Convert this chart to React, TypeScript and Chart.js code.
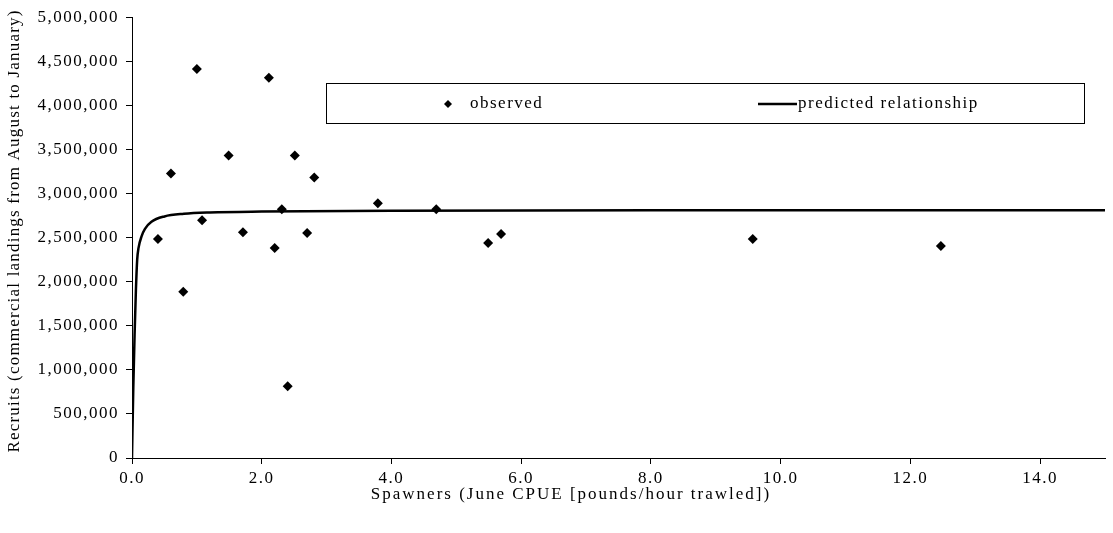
import React, { useEffect, useRef } from "react";
import { Chart, registerables } from "chart.js";
Chart.register(...registerables);

// Observed spawner (June CPUE) and recruit values
const spawners = [0.4, 0.6, 0.79, 1.0, 1.08, 1.49, 1.71, 2.11, 2.2, 2.31, 2.4, 2.51, 2.7, 2.81, 3.79, 4.69, 5.49, 5.69, 9.57, 12.47];
const recruits = [2483000, 3228000, 1885000, 4413000, 2697000, 3431000, 2562000, 4312000, 2381000, 2822000, 813000, 3431000, 2551000, 3183000, 2889000, 2822000, 2438000, 2540000, 2483000, 2404000];

// Predicted relationship
const predSpawners = [0, 0.02, 0.04, 0.06, 0.08, 0.1, 0.15, 0.2, 0.3, 0.5, 0.8, 1.2, 2, 4, 8, 15];
const predRecruits = [0, 800000, 1400000, 1900000, 2250000, 2380000, 2520000, 2600000, 2680000, 2740000, 2770000, 2785000, 2795000, 2805000, 2810000, 2810000];

const xTicks = [0, 2, 4, 6, 8, 10, 12, 14];
const yTicks = [0, 500000, 1000000, 1500000, 2000000, 2500000, 3000000, 3500000, 4000000, 4500000, 5000000];

const seriesNames = ["observed", "predicted relationship"];
const xTitle = "Spawners (June CPUE [pounds/hour trawled])";
const yTitle = "Recruits (commercial landings from August to January)";

const FONT = "'Liberation Serif', 'Times New Roman', serif";
const SPACING = "1.5px";

const spacingPlugin = {
  id: "spacing",
  beforeLayout(chart: any) {
    (chart.ctx as any).letterSpacing = SPACING;
  },
  beforeDraw(chart: any) {
    (chart.ctx as any).letterSpacing = SPACING;
  },
};

const overlayPlugin = {
  id: "overlay",
  afterDraw(chart: any) {
    const ctx = chart.ctx as CanvasRenderingContext2D;
    ctx.save();
    ctx.fillStyle = "#000";
    ctx.strokeStyle = "#000";
    ctx.font = `17px ${FONT}`;
    ctx.textBaseline = "middle";

    // axis titles
    ctx.textAlign = "center";
    (ctx as any).letterSpacing = "2px";
    ctx.fillText(xTitle, 571, 495);
    ctx.save();
    (ctx as any).letterSpacing = "1.2px";
    ctx.translate(15, 231);
    ctx.rotate(-Math.PI / 2);
    ctx.fillText(yTitle, 0, 0);
    ctx.restore();

    // legend box
    (ctx as any).letterSpacing = SPACING;
    ctx.lineWidth = 1;
    ctx.strokeRect(326.5, 83.5, 758, 40);
    const ly = 104;
    // observed marker
    ctx.beginPath();
    const r = 4;
    ctx.moveTo(448, ly - r);
    ctx.lineTo(448 + r, ly);
    ctx.lineTo(448, ly + r);
    ctx.lineTo(448 - r, ly);
    ctx.closePath();
    ctx.fill();
    ctx.textAlign = "left";
    ctx.fillText(seriesNames[0], 470, ly);
    // predicted line
    ctx.lineWidth = 2.5;
    ctx.beginPath();
    ctx.moveTo(758, ly);
    ctx.lineTo(797, ly);
    ctx.stroke();
    ctx.fillText(seriesNames[1], 798, ly);
    ctx.restore();
  },
};

export default function App() {
  const ref = useRef<HTMLCanvasElement | null>(null);
  useEffect(() => {
    if (!ref.current) return;
    const chart = new Chart(ref.current, {
      type: "scatter",
      data: {
        datasets: [
          {
            label: seriesNames[0],
            data: spawners.map((s, i) => ({ x: s, y: recruits[i] })),
            pointStyle: "rectRot",
            pointRadius: 5,
            backgroundColor: "#000",
            borderColor: "#000",
            borderWidth: 0,
            showLine: false,
            order: 1,
          },
          {
            label: seriesNames[1],
            type: "line",
            data: predSpawners.map((s, i) => ({ x: s, y: predRecruits[i] })),
            borderColor: "#000",
            borderWidth: 2.5,
            pointRadius: 0,
            fill: false,
            cubicInterpolationMode: "monotone",
            showLine: true,
            order: 2,
          } as any,
        ],
      },
      options: {
        animation: false,
        responsive: true,
        maintainAspectRatio: false,
        layout: { padding: { top: 15, right: 8, left: 0, bottom: 0 } },
        plugins: {
          legend: { display: false },
          tooltip: { enabled: false },
        },
        scales: {
          x: {
            type: "linear",
            min: 0,
            max: 15,
            afterBuildTicks: (scale: any) => {
              scale.ticks = xTicks.map((v) => ({ value: v }));
            },
            afterFit: (scale: any) => {
              scale.height = 75;
            },
            grid: {
              drawOnChartArea: false,
              drawTicks: true,
              tickLength: 6,
              color: "#000",
              tickColor: "#000",
            },
            border: { display: true, color: "#000", width: 1 },
            ticks: {
              color: "#000",
              padding: 4,
              maxRotation: 0,
              font: { family: FONT, size: 17 },
              callback: (v: any) => Number(v).toFixed(1),
            },
          },
          y: {
            type: "linear",
            min: 0,
            max: 5000000,
            afterBuildTicks: (scale: any) => {
              scale.ticks = yTicks.map((v) => ({ value: v }));
            },
            afterFit: (scale: any) => {
              scale.width = 132;
            },
            grid: {
              drawOnChartArea: false,
              drawTicks: true,
              tickLength: 6,
              color: "#000",
              tickColor: "#000",
            },
            border: { display: true, color: "#000", width: 1 },
            ticks: {
              color: "#000",
              padding: 7,
              font: { family: FONT, size: 17 },
              callback: (v: any) => Number(v).toLocaleString("en-US"),
            },
          },
        },
      },
      plugins: [spacingPlugin, overlayPlugin],
    } as any);
    return () => chart.destroy();
  }, []);
  return (
    <div style={{ position: "fixed", left: 0, top: 0, width: 1113, height: 533, background: "#fff" }}>
      <canvas ref={ref} />
    </div>
  );
}
